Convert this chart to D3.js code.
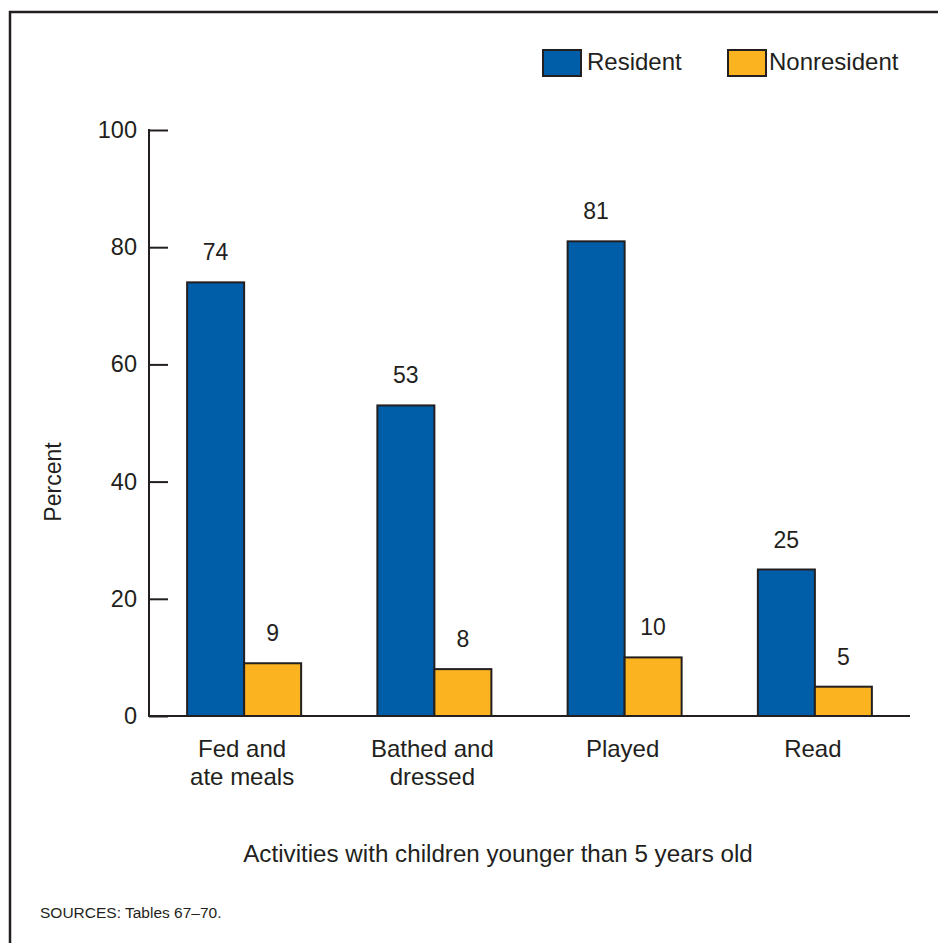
<!DOCTYPE html>
<html><head><meta charset="utf-8">
<script src="https://cdn.jsdelivr.net/npm/d3@7"></script>
<style>body{margin:0;background:#fff;} svg{display:block;font-family:"Liberation Sans",Arial,Helvetica,sans-serif;}</style>
</head><body>
<script>
const categories = [["Fed and","ate meals"],["Bathed and","dressed"],["Played"],["Read"]];
const seriesNames = ["Resident","Nonresident"];
const resident = [74,53,81,25];
const nonresident = [9,8,10,5];
const yTicks = [0,20,40,60,80,100];
const colors = ["#005ea8","#fbb41f"];
const ink = "#231f20";

const W = 938, H = 943;
const svg = d3.select("body").append("svg").attr("width",W).attr("height",H);

// frame
svg.append("rect").attr("x",10).attr("y",12).attr("width",W+20).attr("height",H+20)
  .attr("fill","none").attr("stroke",ink).attr("stroke-width",2.5);

const pLeft = 149, pRight = 910, pTop = 130, pBottom = 716;
const x = d3.scaleBand().domain(d3.range(categories.length)).range([pLeft,pRight]).padding(0);
const y = d3.scaleLinear().domain([0,100]).range([pBottom,pTop]);
const barW = 57;
const xs = d3.scaleBand().domain(seriesNames).range([-barW, barW]);

const data = [resident, nonresident];

// y axis
const yAxis = svg.append("g").attr("transform",`translate(${pLeft},0)`)
  .call(d3.axisLeft(y).tickValues(yTicks).tickSize(-19).tickPadding(12).tickFormat(d3.format("d")));
yAxis.select(".domain").remove();
yAxis.selectAll(".tick line").attr("stroke",ink).attr("stroke-width",2);
yAxis.selectAll(".tick text").attr("fill",ink).style("font-size","23.5px")
  .style("font-family","'Liberation Sans',Arial,sans-serif");
svg.append("line").attr("x1",pLeft).attr("x2",pLeft).attr("y1",y(100)-1).attr("y2",pBottom+1)
  .attr("stroke",ink).attr("stroke-width",2);

// bars
seriesNames.forEach((s,si)=>{
  const g = svg.append("g");
  g.selectAll("rect").data(data[si]).join("rect")
    .attr("x",(d,i)=>x(i)+x.bandwidth()/2+xs(s))
    .attr("y",d=>y(d))
    .attr("width",xs.bandwidth())
    .attr("height",d=>y(0)-y(d))
    .attr("fill",colors[si]).attr("stroke",ink).attr("stroke-width",2);
  g.selectAll("text").data(data[si]).join("text")
    .attr("x",(d,i)=>x(i)+x.bandwidth()/2+xs(s)+xs.bandwidth()/2)
    .attr("y",d=>y(d)-22)
    .attr("text-anchor","middle").attr("fill",ink).style("font-size","23px")
    .text(d=>d);
});

// x axis line
svg.append("line").attr("x1",pLeft-1).attr("x2",pRight).attr("y1",pBottom).attr("y2",pBottom)
  .attr("stroke",ink).attr("stroke-width",2);

// category labels
categories.forEach((lines,i)=>{
  const t = svg.append("text").attr("text-anchor","middle").attr("fill",ink).style("font-size","24px");
  lines.forEach((ln,j)=>{
    t.append("tspan").attr("x",x(i)+x.bandwidth()/2-2).attr("y",757+j*27.5).text(ln);
  });
});

// axis titles
svg.append("text").attr("transform","translate(61,482) rotate(-90)").attr("text-anchor","middle")
  .attr("fill",ink).style("font-size","23px").text("Percent");
svg.append("text").attr("x",498).attr("y",862).attr("text-anchor","middle")
  .attr("fill",ink).style("font-size","24.2px").text("Activities with children younger than 5 years old");

// legend
const legX = [543, 728];
const legTextX = [587, 769];
seriesNames.forEach((s,si)=>{
  svg.append("rect").attr("x",legX[si]).attr("y",50).attr("width",38).attr("height",26)
    .attr("fill",colors[si]).attr("stroke",ink).attr("stroke-width",2);
  svg.append("text").attr("x",legTextX[si]).attr("y",70).attr("fill",ink)
    .style("font-size","24px").text(s);
});

// source
svg.append("text").attr("x",40).attr("y",918).attr("fill",ink).style("font-size","15.5px")
  .text("SOURCES: Tables 67\u201370.");
</script>
</body></html>
